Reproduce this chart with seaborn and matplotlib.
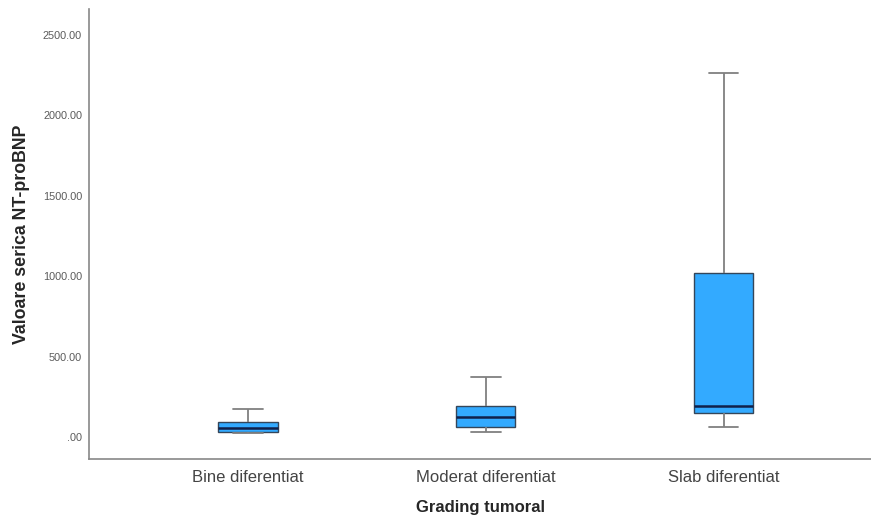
#Boxplot NT-proBNP by tumour grading
import numpy as np
import pandas as pd
import matplotlib
matplotlib.use("Agg")
import matplotlib.pyplot as plt
import seaborn as sns

#five number summaries (min, Q1, median, Q3, max)
categories = ["Bine diferentiat", "Moderat diferentiat", "Slab diferentiat"]
bine_vals = [25, 31, 56, 93, 174]
moderat_vals = [31, 62, 124, 193, 373]
slab_vals = [62, 149, 193, 1020, 2264]
y_ticks = [0, 500, 1000, 1500, 2000, 2500]
y_tick_labels = [".00", "500.00", "1000.00", "1500.00", "2000.00", "2500.00"]

df = pd.DataFrame({
    "grading": [categories[0]] * len(bine_vals) + [categories[1]] * len(moderat_vals)
               + [categories[2]] * len(slab_vals),
    "value": bine_vals + moderat_vals + slab_vals,
})

sns.set_style("white")
plt.rcParams["font.family"] = ["Liberation Sans", "DejaVu Sans"]

fig = plt.figure(figsize=(8.71, 5.2), dpi=100)
ax = fig.add_axes([0.1022, 0.1173, 0.8978, 0.8654])

sns.boxplot(data=df, x="grading", y="value", order=categories, ax=ax,
            whis=np.inf, width=0.25, color="#33aaff", saturation=1,
            boxprops=dict(facecolor="#33aaff", edgecolor="#34465a", linewidth=1),
            medianprops=dict(color="#10204a", linewidth=1.8),
            whiskerprops=dict(color="#808080", linewidth=1.3),
            capprops=dict(color="#808080", linewidth=1.3),
            showfliers=False)

for p in ax.patches:
    p.set_edgecolor("#34465a")

ax.set_xlim(-0.668, 2.62)
ax.set_ylim(-137, 2662)
ax.set_yticks(y_ticks)
ax.set_yticklabels(y_tick_labels, fontsize=7.8, color="#5a5a5a")
ax.tick_params(axis="x", labelsize=12, length=0, pad=8)
ax.tick_params(axis="y", length=0, pad=5)
for lbl in ax.get_xticklabels():
    lbl.set_color("#444444")

ax.set_xlabel("Grading tumoral", fontsize=12, fontweight="bold", labelpad=11)
ax.set_ylabel("Valoare serica NT-proBNP", fontsize=12.8, fontweight="bold", labelpad=9)

sns.despine(ax=ax, top=True, right=True)
ax.spines["left"].set_color("#888888")
ax.spines["bottom"].set_color("#888888")
ax.spines["left"].set_linewidth(1.2)
ax.spines["bottom"].set_linewidth(1.2)

fig.savefig("out.png", dpi=100)
plt.close()
